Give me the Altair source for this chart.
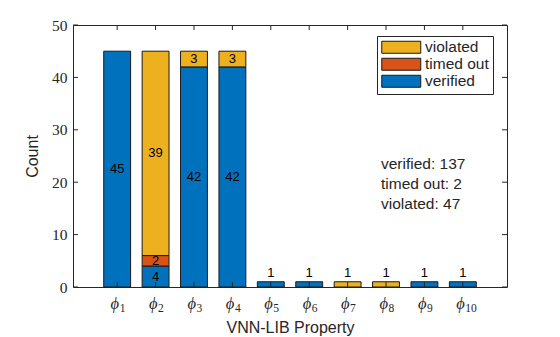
import altair as alt
import pandas as pd

# ---- data ----
prop_symbol = "ϕ"
prop_index = [1, 2, 3, 4, 5, 6, 7, 8, 9, 10]
props = [f"{prop_symbol}{i}" for i in prop_index]
verified = [45, 4, 42, 42, 1, 1, 0, 0, 1, 1]
timed_out = [0, 2, 0, 0, 0, 0, 0, 0, 0, 0]
violated = [0, 39, 3, 3, 0, 0, 1, 1, 0, 0]
statuses = ["verified", "timed out", "violated"]
status_colors = ["#0072BD", "#D95319", "#EDB120"]
y_ticks = [0, 10, 20, 30, 40, 50]

series = [verified, timed_out, violated]
rows = []
for rank, (st, vals) in enumerate(zip(statuses, series)):
    for p, v in zip(props, vals):
        rows.append({"prop": p, "status": st, "n": v, "rank": rank})
df = pd.DataFrame(rows)

totals = [f"{st}: {sum(vals)}" for st, vals in zip(statuses, series)]

W, H = 434, 262
FRAME = "#262626"
SANS = "Liberation Sans, Arial, Helvetica, sans-serif"
SERIF = "Liberation Serif, Times New Roman, DejaVu Serif, serif"

legend_order = statuses[::-1]
legend_colors = status_colors[::-1]

xscale = alt.Scale(paddingInner=0.3, paddingOuter=0.8)
yscale = alt.Scale(domain=[0, 50], nice=False, zero=True)

XT = "VNN-LIB Property"
YT = "Count"


def X():
    return alt.X("prop:N", sort=props, scale=xscale, title=XT)


base = (
    alt.Chart(df)
    .transform_filter("datum.n > 0")
    .transform_stack(
        stack="n",
        groupby=["prop"],
        sort=[alt.SortField("rank", order="ascending")],
        as_=["y0", "y1"],
    )
    .transform_calculate(mid="(datum.y0 + datum.y1) / 2")
)

bars = base.mark_bar(stroke="#1a1a1a", strokeWidth=1).encode(
    x=X(),
    y=alt.Y("y0:Q", scale=yscale, title=YT),
    y2="y1:Q",
    color=alt.Color(
        "status:N",
        scale=alt.Scale(domain=legend_order, range=legend_colors),
        legend=alt.Legend(
            title=None,
            orient="none",
            legendX=304,
            legendY=11,
            direction="vertical",
            symbolType="M-3.25,-1H3.25V1H-3.25Z",
            symbolSize=144,
            symbolOffset=13,
            symbolStrokeColor="#1a1a1a",
            symbolStrokeWidth=1,
            symbolOpacity=1,
            labelFont=SANS,
            labelFontSize=15.5,
            labelColor=FRAME,
            labelOffset=16,
            strokeColor=FRAME,
            fillColor="white",
            padding=3.5,
            rowPadding=-2,
            cornerRadius=0,
        ),
    ),
)

labels_mid = base.transform_filter("datum.n >= 2").mark_text(
    font=SANS, fontSize=13, color="black"
).encode(
    x=X(),
    y=alt.Y("mid:Q", scale=yscale, title=YT),
    text="n:Q",
)

labels_top = base.transform_filter("datum.n < 2").mark_text(
    font=SANS, fontSize=13, color="black", baseline="bottom", dy=-2
).encode(
    x=X(),
    y=alt.Y("y1:Q", scale=yscale, title=YT),
    text="n:Q",
)

tick_df = pd.DataFrame({"prop": props, "sym": [prop_symbol] * len(props), "idx": prop_index})
ytick_df = pd.DataFrame({"v": y_ticks})
TL = 5

xt_bottom = alt.Chart(tick_df).mark_rule(color=FRAME, strokeWidth=1).encode(
    x=X(),
    y=alt.value(H), y2=alt.value(H - TL),
)
xt_top = alt.Chart(tick_df).mark_rule(color=FRAME, strokeWidth=1).encode(
    x=X(),
    y=alt.value(0), y2=alt.value(TL),
)
yt_left = alt.Chart(ytick_df).mark_rule(color=FRAME, strokeWidth=1).encode(
    y=alt.Y("v:Q", scale=yscale, title=YT),
    x=alt.value(0), x2=alt.value(TL),
)
yt_right = alt.Chart(ytick_df).mark_rule(color=FRAME, strokeWidth=1).encode(
    y=alt.Y("v:Q", scale=yscale, title=YT),
    x=alt.value(W - TL), x2=alt.value(W),
)

# x tick labels: italic phi with a subscript index
xl_sym = alt.Chart(tick_df).mark_text(
    font=SERIF, fontSize=16.5, fontStyle="italic", color=FRAME,
    align="right", baseline="alphabetic", dx=2,
).encode(x=X(), y=alt.value(H + 21.5), text="sym:N")
xl_sub = alt.Chart(tick_df).mark_text(
    font=SERIF, fontSize=11.5, color=FRAME,
    align="left", baseline="alphabetic", dx=2.5,
).encode(x=X(), y=alt.value(H + 25), text="idx:N")

note_df = pd.DataFrame({"lines": [totals], "yv": [20]})
note = alt.Chart(note_df).mark_text(
    font=SANS, fontSize=15.5, color=FRAME, align="left", baseline="middle",
    lineHeight=20, dy=-18,
).encode(
    x=alt.value(308),
    y=alt.Y("yv:Q", scale=yscale, title=YT),
    text="lines",
)

chart = (
    alt.layer(bars, labels_mid, labels_top, xt_bottom, xt_top, yt_left, yt_right,
              xl_sym, xl_sub, note)
    .properties(
        width=W,
        height=H,
        autosize=alt.AutoSizeParams(type="none"),
        padding={"left": 73, "top": 25, "right": 53, "bottom": 50},
        background="white",
    )
    .configure_view(stroke=FRAME, strokeWidth=1)
    .configure_axis(
        ticks=False,
        domain=False,
        grid=False,
        labelColor=FRAME,
        titleColor=FRAME,
        titleFont=SANS,
        titleFontSize=16,
        titleFontWeight="normal",
        labelFont=SERIF,
    )
    .configure_axisX(
        labels=False,
        titlePadding=32,
    )
    .configure_axisY(
        values=y_ticks,
        labelFontSize=15.5,
        labelPadding=6,
        titlePadding=11,
    )
)

chart.save("out.html", embed_options={"renderer": "svg", "actions": False})
